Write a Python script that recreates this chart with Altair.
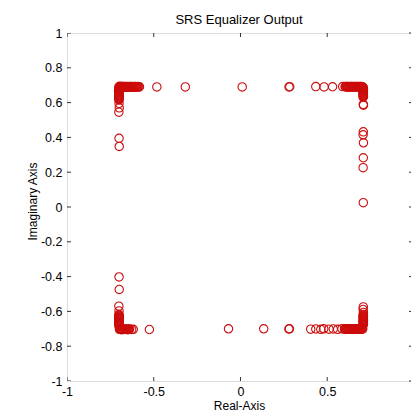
import altair as alt
import pandas as pd

# ---- data (real, imaginary) ----
# top-left corner cluster
tl_re = [-0.700, -0.697, -0.693, -0.690, -0.686, -0.683, -0.679, -0.676, -0.672, -0.669,
         -0.665, -0.662, -0.658, -0.655, -0.651, -0.648, -0.644, -0.641, -0.637, -0.634,
         -0.630, -0.627, -0.623, -0.620, -0.616, -0.613, -0.609, -0.606, -0.602, -0.599,
         -0.595, -0.591, -0.586, -0.582,
         -0.699, -0.702, -0.698, -0.701, -0.700, -0.703, -0.699, -0.701, -0.698, -0.700,
         -0.702, -0.699, -0.700, -0.701, -0.698, -0.700, -0.702, -0.699, -0.701, -0.700,
         -0.700, -0.699, -0.701, -0.700, -0.699,
         -0.482, -0.318, 0.010]
tl_im = [0.692, 0.690, 0.694, 0.689, 0.693, 0.691, 0.688, 0.692, 0.690, 0.693,
         0.689, 0.691, 0.692, 0.688, 0.690, 0.693, 0.689, 0.691, 0.690, 0.692,
         0.689, 0.693, 0.690, 0.691, 0.688, 0.692, 0.690, 0.693, 0.689, 0.691,
         0.690, 0.692, 0.689, 0.691,
         0.686, 0.682, 0.678, 0.675, 0.671, 0.667, 0.664, 0.660, 0.656, 0.653,
         0.649, 0.645, 0.642, 0.638, 0.634, 0.631, 0.627, 0.623, 0.619, 0.615,
         0.595, 0.570, 0.545, 0.395, 0.348,
         0.690, 0.690, 0.690]

# top-right corner cluster
tr_re = [0.280, 0.284, 0.434, 0.482, 0.531, 0.589,
         0.603, 0.606, 0.610, 0.613, 0.617, 0.620, 0.624, 0.627, 0.631, 0.634,
         0.638, 0.641, 0.645, 0.648, 0.652, 0.655, 0.659, 0.662, 0.666, 0.669,
         0.673, 0.676, 0.680, 0.683, 0.687, 0.690, 0.694, 0.697, 0.701, 0.705,
         0.708, 0.707, 0.709, 0.708, 0.706, 0.708, 0.709, 0.707, 0.708, 0.706,
         0.709, 0.708, 0.707, 0.708, 0.709, 0.707,
         0.708, 0.708, 0.707, 0.709, 0.708, 0.707, 0.708, 0.709]
tr_im = [0.690, 0.691, 0.692, 0.690, 0.691, 0.692,
         0.691, 0.693, 0.690, 0.692, 0.689, 0.693, 0.691, 0.690, 0.692, 0.689,
         0.693, 0.690, 0.692, 0.691, 0.689, 0.692, 0.690, 0.693, 0.691, 0.689,
         0.692, 0.690, 0.693, 0.691, 0.690, 0.692, 0.689, 0.693, 0.691, 0.690,
         0.686, 0.682, 0.679, 0.675, 0.671, 0.668, 0.664, 0.660, 0.657, 0.653,
         0.649, 0.646, 0.642, 0.638, 0.635, 0.631,
         0.590, 0.432, 0.415, 0.369, 0.283, 0.226, 0.025, 0.585]

# bottom-left corner cluster
bl_re = [-0.700, -0.699, -0.701, -0.700,
         -0.701, -0.699, -0.700, -0.702, -0.698, -0.700, -0.701, -0.699, -0.700, -0.701,
         -0.699, -0.700, -0.702, -0.700, -0.701, -0.699, -0.700, -0.701,
         -0.698, -0.695, -0.691, -0.688, -0.684, -0.681, -0.677, -0.674, -0.670, -0.667,
         -0.663, -0.660, -0.656, -0.653, -0.649, -0.646, -0.642, -0.639,
         -0.627, -0.618, -0.525]
bl_im = [-0.402, -0.474, -0.570, -0.597,
         -0.618, -0.622, -0.626, -0.629, -0.633, -0.637, -0.641, -0.644, -0.648, -0.652,
         -0.656, -0.659, -0.663, -0.667, -0.671, -0.675, -0.679, -0.683,
         -0.703, -0.701, -0.704, -0.702, -0.705, -0.701, -0.703, -0.704, -0.702, -0.703,
         -0.701, -0.704, -0.702, -0.703, -0.705, -0.702, -0.703, -0.701,
         -0.704, -0.703, -0.704]

# bottom-right corner cluster
br_re = [-0.069, 0.134, 0.279, 0.282, 0.405, 0.434, 0.463, 0.480, 0.510, 0.535, 0.560, 0.585,
         0.600, 0.604, 0.607, 0.611, 0.614, 0.618, 0.621, 0.625, 0.628, 0.632,
         0.635, 0.639, 0.642, 0.646, 0.649, 0.653, 0.656, 0.660, 0.663, 0.667,
         0.670, 0.674, 0.677, 0.681, 0.684, 0.688, 0.691, 0.695, 0.698, 0.702, 0.705,
         0.708, 0.707, 0.709, 0.708, 0.707, 0.709, 0.708, 0.707, 0.708, 0.709,
         0.708, 0.707, 0.709, 0.708, 0.707, 0.708, 0.709, 0.708, 0.707]
br_im = [-0.700, -0.700, -0.701, -0.700, -0.702, -0.701, -0.703, -0.700, -0.702, -0.701, -0.703, -0.700,
         -0.702, -0.700, -0.703, -0.701, -0.699, -0.702, -0.700, -0.703, -0.701, -0.700,
         -0.702, -0.701, -0.699, -0.703, -0.700, -0.702, -0.701, -0.703, -0.700, -0.702,
         -0.699, -0.701, -0.703, -0.700, -0.702, -0.701, -0.703, -0.700, -0.702, -0.701, -0.700,
         -0.574, -0.589, -0.606, -0.618, -0.622, -0.626, -0.630, -0.634, -0.638, -0.642,
         -0.646, -0.650, -0.654, -0.658, -0.662, -0.666, -0.670, -0.674, -0.678]

x_ticks = [-1, -0.5, 0, 0.5, 1]
y_ticks = [-1, -0.8, -0.6, -0.4, -0.2, 0, 0.2, 0.4, 0.6, 0.8, 1]

re = tl_re + tr_re + bl_re + br_re
im = tl_im + tr_im + bl_im + br_im
df = pd.DataFrame({"re": re, "im": im})
xt = pd.DataFrame({"re": x_ticks})
yt = pd.DataFrame({"im": y_ticks})

W, H = 344, 348
FONT = "Liberation Sans"
TICK = 4

xscale = alt.Scale(domain=[-1, 0.983], nice=False, zero=False)
yscale = alt.Scale(domain=[-1, 1], nice=False, zero=False)
lab = "'' + datum.value"

xaxis = alt.Axis(values=x_ticks, labelExpr=lab, title="Real-Axis",
                 tickSize=0, domain=False, grid=False, labelPadding=4,
                 labelFontSize=12.5, titleFontSize=12, titleFontWeight="normal",
                 titleY=28, titleBaseline="alphabetic", labelFlush=False)
yaxis = alt.Axis(values=y_ticks, labelExpr=lab, title="Imaginary Axis",
                 tickSize=0, domain=False, grid=False, labelPadding=5,
                 labelFontSize=12.5, titleFontSize=12, titleFontWeight="normal",
                 titleX=-31, titleY=168, titleBaseline="alphabetic",
                 titleAngle=270, labelFlush=False)

points = alt.Chart(df).mark_point(
    shape="circle", filled=False, size=70, strokeWidth=1.1, color="#cc0c0c", opacity=1
).encode(
    x=alt.X("re:Q", scale=xscale, axis=xaxis),
    y=alt.Y("im:Q", scale=yscale, axis=yaxis),
)

rule = dict(color="#333", strokeWidth=1, clip=True)
bottom_t = alt.Chart(xt).mark_rule(**rule).encode(
    x=alt.X("re:Q", scale=xscale, axis=xaxis), y=alt.value(H), y2=alt.value(H - TICK))
top_t = alt.Chart(xt).mark_rule(**rule).encode(
    x=alt.X("re:Q", scale=xscale, axis=xaxis), y=alt.value(0), y2=alt.value(TICK))
left_t = alt.Chart(yt).mark_rule(**rule).encode(
    y=alt.Y("im:Q", scale=yscale, axis=yaxis), x=alt.value(0), x2=alt.value(TICK))
right_t = alt.Chart(yt).mark_rule(color="#333", strokeWidth=1).encode(
    y=alt.Y("im:Q", scale=yscale, axis=yaxis), x=alt.value(W + 2), x2=alt.value(W - TICK + 2))

chart = alt.layer(points, bottom_t, top_t, left_t, right_t).properties(
    width=W, height=H,
    title=alt.TitleParams("SRS Equalizer Output", fontSize=13, fontWeight="normal",
                          font=FONT, color="#000", offset=0, anchor="middle"),
    autosize=alt.AutoSizeParams(type="none"),
    padding={"left": 67, "top": 33, "right": 0, "bottom": 31},
).configure_view(
    stroke="#333", strokeWidth=1
).configure_axis(
    labelFont=FONT, titleFont=FONT, labelColor="#000", titleColor="#000"
).configure(background="white")

chart.save("out.html", embed_options={"renderer": "svg", "actions": False})
